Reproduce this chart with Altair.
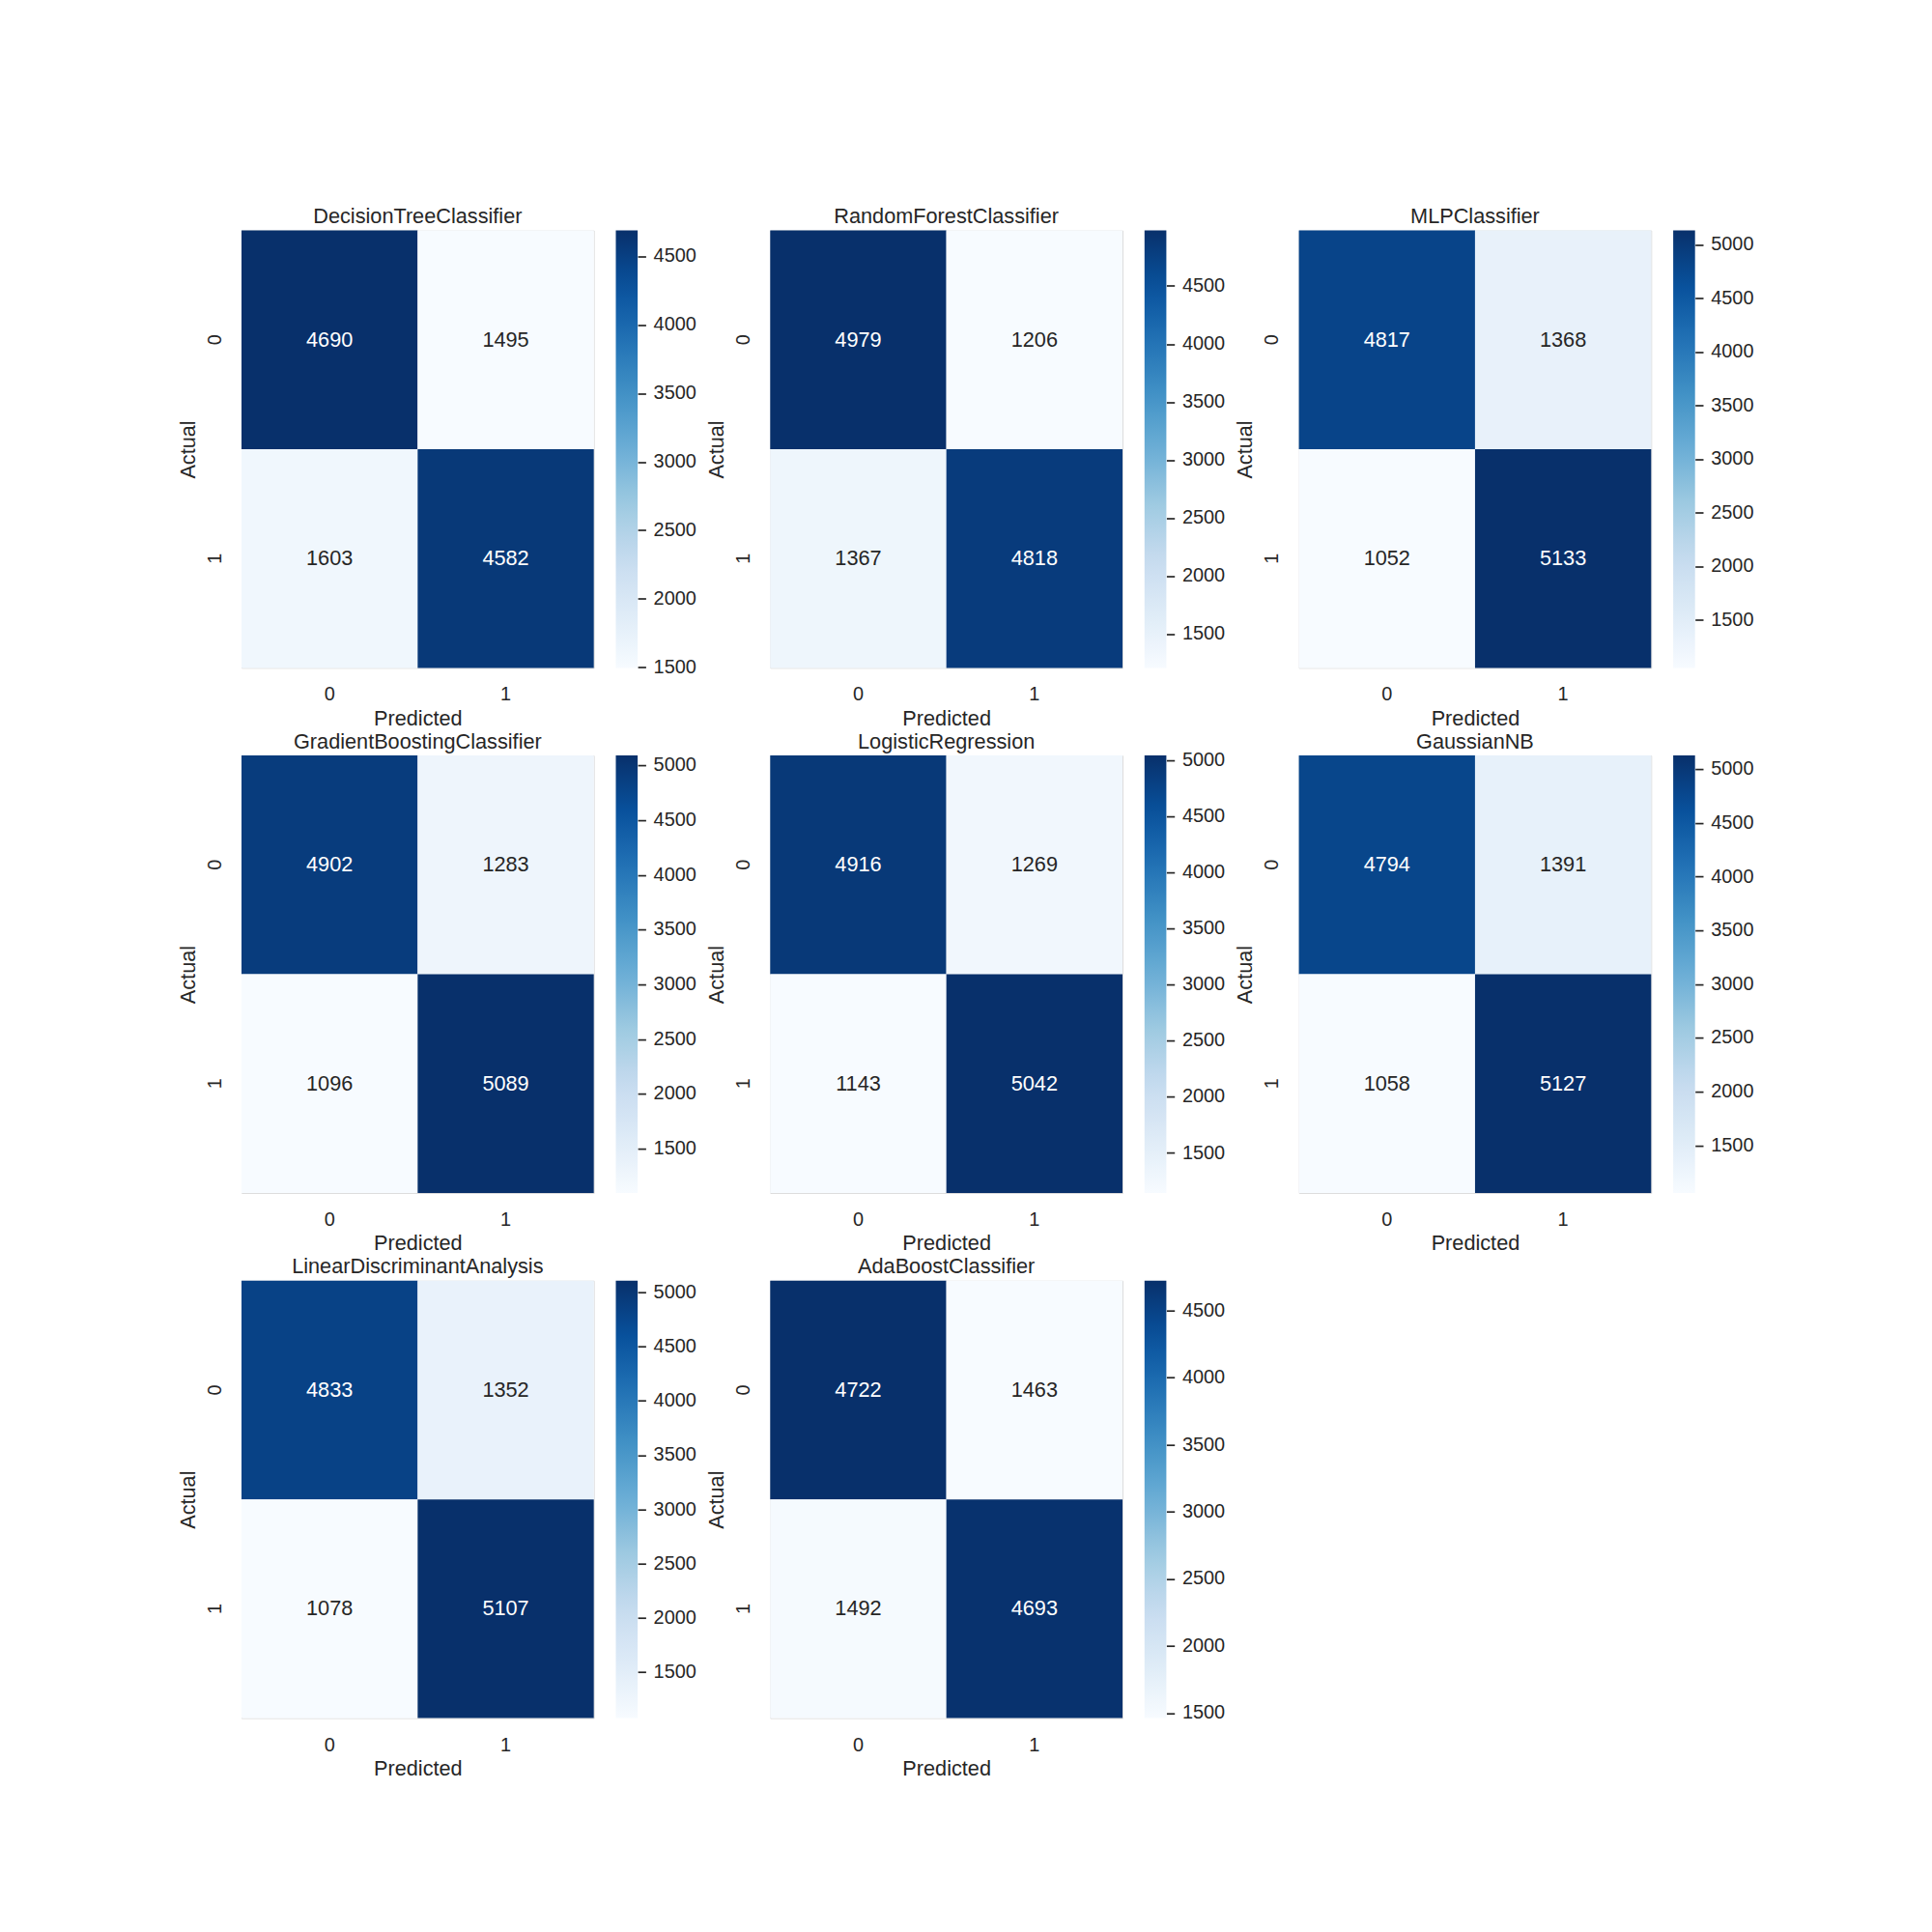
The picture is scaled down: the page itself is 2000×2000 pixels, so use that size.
import altair as alt
import pandas as pd

models = [
    "DecisionTreeClassifier", "RandomForestClassifier", "MLPClassifier",
    "GradientBoostingClassifier", "LogisticRegression", "GaussianNB",
    "LinearDiscriminantAnalysis", "AdaBoostClassifier",
]
# confusion matrix cells: actual 0 / predicted 0, actual 0 / predicted 1, ...
tn = [4690, 4979, 4817, 4902, 4916, 4794, 4833, 4722]
fp = [1495, 1206, 1368, 1283, 1269, 1391, 1352, 1463]
fn = [1603, 1367, 1052, 1096, 1143, 1058, 1078, 1492]
tp = [4582, 4818, 5133, 5089, 5042, 5127, 5107, 4693]
ticks_45 = [1500, 2000, 2500, 3000, 3500, 4000, 4500]
ticks_50 = [1500, 2000, 2500, 3000, 3500, 4000, 4500, 5000]
cbar_ticks = [ticks_45, ticks_45, ticks_50, ticks_50, ticks_50, ticks_50, ticks_50, ticks_45]
labels01 = ["0", "1"]

# matplotlib "Blues" colormap anchor colours
blues = ["#f7fbff", "#deebf7", "#c6dbef", "#9ecae1", "#6baed6",
         "#4292c6", "#2171b5", "#08519c", "#08306b"]

FONT = "Liberation Sans"
TXT = "#262626"
W = 364.7
H = 452.9
FS_TITLE = 21.7
FS_TICK = 19.9
CB_GAP = 22.8
CB_W = 22.6

panels = []
for i, name in enumerate(models):
    df = pd.DataFrame({
        "Actual": ["0", "0", "1", "1"],
        "Predicted": ["0", "1", "0", "1"],
        "value": [tn[i], fp[i], fn[i], tp[i]],
    })
    vmin = int(df["value"].min())
    vmax = int(df["value"].max())
    mid = (vmin + vmax) / 2
    n = len(blues) - 1
    cdomain = [vmin + (vmax - vmin) * k / n for k in range(n + 1)]

    x = alt.X(
        "Predicted:N",
        scale=alt.Scale(domain=labels01, paddingInner=0, paddingOuter=0),
        axis=alt.Axis(
            title="Predicted", labelAngle=0, ticks=False, tickSize=0, domain=False,
            labelPadding=17.5, labelFontSize=FS_TICK, labelColor=TXT, labelFont=FONT,
            titleFontSize=FS_TITLE, titleColor=TXT, titleFont=FONT, titleFontWeight="normal",
            titleBaseline="alphabetic", titleY=58.7, titleX=W / 2, titleAlign="center",
        ),
    )
    y = alt.Y(
        "Actual:N",
        scale=alt.Scale(domain=labels01, paddingInner=0, paddingOuter=0),
        axis=alt.Axis(
            title="Actual", labelAngle=270, labelAlign="center", labelBaseline="alphabetic",
            ticks=False, tickSize=0, domain=False, labelPadding=22,
            labelFontSize=FS_TICK, labelColor=TXT, labelFont=FONT,
            titleFontSize=FS_TITLE, titleColor=TXT, titleFont=FONT, titleFontWeight="normal",
            titleAngle=270, titleBaseline="alphabetic", titleAlign="center",
            titleX=-49, titleY=H / 2,
        ),
    )
    base = alt.Chart(df)
    rect = base.mark_rect(strokeWidth=0).encode(
        x=x, y=y,
        color=alt.Color(
            "value:Q",
            scale=alt.Scale(domain=cdomain, range=blues, interpolate="rgb",
                            nice=False, zero=False),
            legend=alt.Legend(
                title=None, orient="none", legendX=W + CB_GAP, legendY=0,
                padding=0, direction="vertical",
                gradientLength=H, gradientThickness=CB_W, gradientStrokeWidth=0,
                values=cbar_ticks[i], format="d", labelOverlap=False,
                labelFontSize=FS_TICK, labelColor=TXT, labelFont=FONT, labelOffset=16.5,
            ),
        ),
    )
    text = base.mark_text(fontSize=FS_TITLE, font=FONT, baseline="middle").encode(
        x=x, y=y,
        text=alt.Text("value:Q", format="d"),
        color=alt.condition(alt.datum.value > mid, alt.value("white"), alt.value(TXT)),
    )
    heat = alt.layer(rect, text)
    # colour-bar tick marks: invisible layer carrying a right-hand value axis
    cbar_axis = base.mark_rule(opacity=0).encode(
        y=alt.Y(
            "value:Q",
            scale=alt.Scale(domain=[vmin, vmax], nice=False, zero=False),
            axis=alt.Axis(
                orient="right", offset=CB_GAP + CB_W, title=None, labels=False,
                domain=False, grid=False, values=cbar_ticks[i],
                tickSize=8.3, tickWidth=1.7, tickColor=TXT,
            ),
        ),
    )
    panel = alt.layer(heat, cbar_axis).resolve_scale(y="independent").properties(
        width=W, height=H,
        title=alt.TitleParams(
            text=name, fontSize=FS_TITLE, font=FONT, color=TXT, fontWeight="normal",
            baseline="alphabetic", offset=-14.1, frame="group", anchor="middle",
        ),
    )
    panels.append(panel)

chart = alt.concat(
    *panels, columns=3, spacing={"row": 90.6, "column": 182.3}, bounds="flush"
).resolve_scale(color="independent").resolve_legend(color="independent").properties(
    padding={"left": 175, "top": 204.5, "right": 10, "bottom": 10},
    background="white",
).configure_view(stroke=None).configure(font=FONT)

chart.save("out.html", embed_options={"renderer": "svg", "actions": False})
